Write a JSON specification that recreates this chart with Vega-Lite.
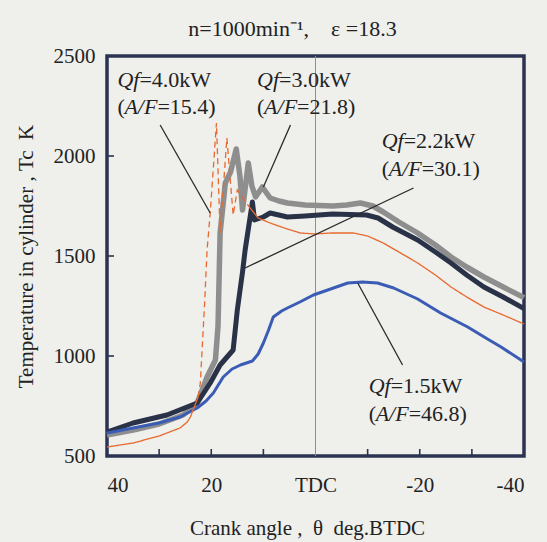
{
  "$schema": "https://vega.github.io/schema/vega-lite/v6.json",
  "width": 417,
  "height": 400,
  "autosize": {"type": "none"},
  "padding": {"left": 107, "top": 56, "right": 23, "bottom": 86},
  "background": "#efefec",
  "title": {
    "text": "n=1000min\u207b\u00b9,\u00a0\u00a0\u00a0\u00a0\u03b5\u00a0=18.3",
    "font": "Liberation Serif",
    "fontSize": 22,
    "fontWeight": "normal",
    "color": "#222222",
    "anchor": "middle",
    "dx": -23,
    "dy": 8,
    "offset": 12
  },
  "config": {
    "font": "Liberation Serif",
    "view": {"stroke": "#2b3350", "strokeWidth": 3.5}
  },
  "datasets": {
    "curves": [
      {"s": "3.0", "seg": "solid", "x": 40, "y": 605},
      {"s": "3.0", "seg": "solid", "x": 35, "y": 630},
      {"s": "3.0", "seg": "solid", "x": 30, "y": 660},
      {"s": "3.0", "seg": "solid", "x": 25.4, "y": 705},
      {"s": "3.0", "seg": "solid", "x": 22.7, "y": 765},
      {"s": "3.0", "seg": "solid", "x": 20.8, "y": 895},
      {"s": "3.0", "seg": "solid", "x": 19.2, "y": 980},
      {"s": "3.0", "seg": "solid", "x": 18.7, "y": 1150},
      {"s": "3.0", "seg": "solid", "x": 18.3, "y": 1615},
      {"s": "3.0", "seg": "solid", "x": 17.3, "y": 1865},
      {"s": "3.0", "seg": "solid", "x": 16.3, "y": 1920},
      {"s": "3.0", "seg": "solid", "x": 15.2, "y": 2035},
      {"s": "3.0", "seg": "solid", "x": 14.5, "y": 1900},
      {"s": "3.0", "seg": "solid", "x": 14, "y": 1730},
      {"s": "3.0", "seg": "solid", "x": 12.9, "y": 1965},
      {"s": "3.0", "seg": "solid", "x": 12.2, "y": 1850},
      {"s": "3.0", "seg": "solid", "x": 11.5, "y": 1795},
      {"s": "3.0", "seg": "solid", "x": 10.2, "y": 1845},
      {"s": "3.0", "seg": "solid", "x": 8.7, "y": 1790},
      {"s": "3.0", "seg": "solid", "x": 7, "y": 1775},
      {"s": "3.0", "seg": "solid", "x": 5.4, "y": 1765},
      {"s": "3.0", "seg": "solid", "x": 2, "y": 1755},
      {"s": "3.0", "seg": "solid", "x": -3.3, "y": 1750},
      {"s": "3.0", "seg": "solid", "x": -6, "y": 1755},
      {"s": "3.0", "seg": "solid", "x": -8.6, "y": 1765},
      {"s": "3.0", "seg": "solid", "x": -11, "y": 1750},
      {"s": "3.0", "seg": "solid", "x": -13, "y": 1720},
      {"s": "3.0", "seg": "solid", "x": -16, "y": 1670},
      {"s": "3.0", "seg": "solid", "x": -19.6, "y": 1615},
      {"s": "3.0", "seg": "solid", "x": -23, "y": 1555},
      {"s": "3.0", "seg": "solid", "x": -26, "y": 1495},
      {"s": "3.0", "seg": "solid", "x": -29, "y": 1445},
      {"s": "3.0", "seg": "solid", "x": -32.3, "y": 1395},
      {"s": "3.0", "seg": "solid", "x": -36, "y": 1345},
      {"s": "3.0", "seg": "solid", "x": -40, "y": 1292},

      {"s": "2.2", "seg": "solid", "x": 40, "y": 620},
      {"s": "2.2", "seg": "solid", "x": 35, "y": 665},
      {"s": "2.2", "seg": "solid", "x": 28.5, "y": 705},
      {"s": "2.2", "seg": "solid", "x": 22.7, "y": 765},
      {"s": "2.2", "seg": "solid", "x": 20.2, "y": 865},
      {"s": "2.2", "seg": "solid", "x": 18.3, "y": 955},
      {"s": "2.2", "seg": "solid", "x": 15.8, "y": 1030},
      {"s": "2.2", "seg": "solid", "x": 15, "y": 1230},
      {"s": "2.2", "seg": "solid", "x": 14, "y": 1420},
      {"s": "2.2", "seg": "solid", "x": 13.5, "y": 1530},
      {"s": "2.2", "seg": "solid", "x": 12.1, "y": 1770},
      {"s": "2.2", "seg": "solid", "x": 11.7, "y": 1680},
      {"s": "2.2", "seg": "solid", "x": 10, "y": 1695},
      {"s": "2.2", "seg": "solid", "x": 8.7, "y": 1715},
      {"s": "2.2", "seg": "solid", "x": 5.4, "y": 1695},
      {"s": "2.2", "seg": "solid", "x": 2, "y": 1700},
      {"s": "2.2", "seg": "solid", "x": -3.3, "y": 1710},
      {"s": "2.2", "seg": "solid", "x": -9.8, "y": 1705},
      {"s": "2.2", "seg": "solid", "x": -12, "y": 1690},
      {"s": "2.2", "seg": "solid", "x": -14.8, "y": 1645},
      {"s": "2.2", "seg": "solid", "x": -19.6, "y": 1580},
      {"s": "2.2", "seg": "solid", "x": -23, "y": 1520},
      {"s": "2.2", "seg": "solid", "x": -26, "y": 1465},
      {"s": "2.2", "seg": "solid", "x": -29, "y": 1405},
      {"s": "2.2", "seg": "solid", "x": -32.3, "y": 1345},
      {"s": "2.2", "seg": "solid", "x": -36, "y": 1295},
      {"s": "2.2", "seg": "solid", "x": -40, "y": 1237},

      {"s": "1.5", "seg": "solid", "x": 40, "y": 615},
      {"s": "1.5", "seg": "solid", "x": 35, "y": 640},
      {"s": "1.5", "seg": "solid", "x": 30, "y": 665},
      {"s": "1.5", "seg": "solid", "x": 26, "y": 695},
      {"s": "1.5", "seg": "solid", "x": 22.7, "y": 740},
      {"s": "1.5", "seg": "solid", "x": 21, "y": 775},
      {"s": "1.5", "seg": "solid", "x": 19.6, "y": 815},
      {"s": "1.5", "seg": "solid", "x": 17.7, "y": 895},
      {"s": "1.5", "seg": "solid", "x": 16, "y": 935},
      {"s": "1.5", "seg": "solid", "x": 14.4, "y": 955},
      {"s": "1.5", "seg": "solid", "x": 12.1, "y": 975},
      {"s": "1.5", "seg": "solid", "x": 11, "y": 1010},
      {"s": "1.5", "seg": "solid", "x": 10, "y": 1065},
      {"s": "1.5", "seg": "solid", "x": 9, "y": 1130},
      {"s": "1.5", "seg": "solid", "x": 8.1, "y": 1195},
      {"s": "1.5", "seg": "solid", "x": 6.5, "y": 1225},
      {"s": "1.5", "seg": "solid", "x": 5.4, "y": 1240},
      {"s": "1.5", "seg": "solid", "x": 3, "y": 1270},
      {"s": "1.5", "seg": "solid", "x": 0.4, "y": 1305},
      {"s": "1.5", "seg": "solid", "x": -2.9, "y": 1335},
      {"s": "1.5", "seg": "solid", "x": -6.2, "y": 1365},
      {"s": "1.5", "seg": "solid", "x": -9, "y": 1370},
      {"s": "1.5", "seg": "solid", "x": -11.9, "y": 1365},
      {"s": "1.5", "seg": "solid", "x": -15, "y": 1340},
      {"s": "1.5", "seg": "solid", "x": -19.6, "y": 1285},
      {"s": "1.5", "seg": "solid", "x": -24, "y": 1215},
      {"s": "1.5", "seg": "solid", "x": -29.2, "y": 1145},
      {"s": "1.5", "seg": "solid", "x": -33, "y": 1085},
      {"s": "1.5", "seg": "solid", "x": -35.6, "y": 1045},
      {"s": "1.5", "seg": "solid", "x": -40, "y": 970},

      {"s": "4.0", "seg": "a", "x": 40, "y": 545},
      {"s": "4.0", "seg": "a", "x": 35, "y": 565},
      {"s": "4.0", "seg": "a", "x": 30, "y": 600},
      {"s": "4.0", "seg": "a", "x": 26, "y": 640},
      {"s": "4.0", "seg": "a", "x": 24.6, "y": 670},
      {"s": "4.0", "seg": "a", "x": 24, "y": 695},
      {"s": "4.0", "seg": "a", "x": 22.5, "y": 795},
      {"s": "4.0", "seg": "b", "x": 22.5, "y": 795},
      {"s": "4.0", "seg": "b", "x": 22.1, "y": 865},
      {"s": "4.0", "seg": "b", "x": 21.3, "y": 1250},
      {"s": "4.0", "seg": "b", "x": 20.8, "y": 1530},
      {"s": "4.0", "seg": "b", "x": 20.2, "y": 1715},
      {"s": "4.0", "seg": "b", "x": 19, "y": 2165},
      {"s": "4.0", "seg": "b", "x": 18.3, "y": 1615},
      {"s": "4.0", "seg": "b", "x": 17, "y": 2090},
      {"s": "4.0", "seg": "b", "x": 15.8, "y": 1705},
      {"s": "4.0", "seg": "b", "x": 15, "y": 1830},
      {"s": "4.0", "seg": "b", "x": 13, "y": 1755},
      {"s": "4.0", "seg": "c", "x": 13, "y": 1755},
      {"s": "4.0", "seg": "c", "x": 11, "y": 1690},
      {"s": "4.0", "seg": "c", "x": 8.7, "y": 1665},
      {"s": "4.0", "seg": "c", "x": 6, "y": 1640},
      {"s": "4.0", "seg": "c", "x": 2.9, "y": 1615},
      {"s": "4.0", "seg": "c", "x": 0, "y": 1610},
      {"s": "4.0", "seg": "c", "x": -2.9, "y": 1615},
      {"s": "4.0", "seg": "c", "x": -7.3, "y": 1615},
      {"s": "4.0", "seg": "c", "x": -10, "y": 1600},
      {"s": "4.0", "seg": "c", "x": -13, "y": 1565},
      {"s": "4.0", "seg": "c", "x": -16, "y": 1520},
      {"s": "4.0", "seg": "c", "x": -19.6, "y": 1465},
      {"s": "4.0", "seg": "c", "x": -23, "y": 1405},
      {"s": "4.0", "seg": "c", "x": -26, "y": 1345},
      {"s": "4.0", "seg": "c", "x": -29, "y": 1295},
      {"s": "4.0", "seg": "c", "x": -32.3, "y": 1245},
      {"s": "4.0", "seg": "c", "x": -36, "y": 1205},
      {"s": "4.0", "seg": "c", "x": -40, "y": 1160}
    ],
    "leaders": [
      {"x": 29.8, "y": 2155, "x2": 20.2, "y2": 1715},
      {"x": 4.8, "y": 2155, "x2": 10, "y2": 1845},
      {"x": -18.8, "y": 1840, "x2": 13.5, "y2": 1440},
      {"x": -8.1, "y": 1365, "x2": -16.7, "y2": 955}
    ],
    "labels": [
      {"x": 38, "y1": 2380, "y2": 2245, "qf": "=4.0kW", "af": "=15.4)"},
      {"x": 11.2, "y1": 2380, "y2": 2245, "qf": "=3.0kW", "af": "=21.8)"},
      {"x": -12.7, "y1": 2075, "y2": 1935, "qf": "=2.2kW", "af": "=30.1)"},
      {"x": -10.2, "y1": 850, "y2": 712, "qf": "=1.5kW", "af": "=46.8)"}
    ],
    "xticks": [{"x": 30}, {"x": 20}, {"x": 10}, {"x": -10}, {"x": -20}, {"x": -30}],
    "yticks": [{"y": 1000}, {"y": 1500}, {"y": 2000}]
  },
  "layer": [
    {
      "data": {"values": [{"x": 0}]},
      "mark": {"type": "rule", "color": "#8a909c", "strokeWidth": 1},
      "encoding": {
        "x": {
          "field": "x", "type": "quantitative",
          "scale": {"domain": [-40, 40], "reverse": true, "nice": false, "zero": false},
          "axis": {
            "values": [40, 30, 20, 10, 0, -10, -20, -30, -40],
            "labelExpr": "datum.value == 0 ? 'TDC' : (datum.value % 20 == 0 ? '' + datum.value : '')",
            "grid": false,
            "domain": false,
            "ticks": false,
            "labelFont": "Liberation Serif",
            "labelFontSize": 21,
            "labelColor": "#222222",
            "labelPadding": 18,
            "title": "Crank angle ,\u00a0\u00a0\u03b8\u00a0\u00a0deg.BTDC",
            "titleFont": "Liberation Serif",
            "titleFontSize": 21,
            "titleFontWeight": "normal",
            "titleColor": "#222222",
            "titlePadding": 22,
            "titleX": 200
          }
        }
      }
    },
    {
      "data": {"name": "xticks"},
      "mark": {"type": "rule", "color": "#2b3350", "strokeWidth": 1.6},
      "encoding": {
        "x": {"field": "x", "type": "quantitative", "scale": {"domain": [-40, 40], "reverse": true, "nice": false, "zero": false}},
        "y": {"datum": 500, "type": "quantitative", "scale": {"domain": [500, 2500], "nice": false, "zero": false}},
        "y2": {"datum": 535}
      }
    },
    {
      "data": {"name": "yticks"},
      "mark": {"type": "rule", "color": "#2b3350", "strokeWidth": 1.6},
      "encoding": {
        "y": {"field": "y", "type": "quantitative", "scale": {"domain": [500, 2500], "nice": false, "zero": false}},
        "x": {"datum": 40, "type": "quantitative", "scale": {"domain": [-40, 40], "reverse": true, "nice": false, "zero": false}},
        "x2": {"datum": 38.65}
      }
    },
    {
      "data": {"name": "curves"},
      "transform": [{"filter": "datum.s == '3.0'"}],
      "mark": {"type": "line", "color": "#8e8e8e", "strokeWidth": 5.5, "strokeJoin": "round"},
      "encoding": {
        "x": {"field": "x", "type": "quantitative"},
        "y": {
          "field": "y", "type": "quantitative",
          "scale": {"domain": [500, 2500], "nice": false, "zero": false},
          "axis": {
            "values": [500, 1000, 1500, 2000, 2500],
            "format": "d",
            "grid": false,
            "domain": false,
            "ticks": false,
            "labelFont": "Liberation Serif",
            "labelFontSize": 21,
            "labelColor": "#222222",
            "labelPadding": 12,
            "title": "Temperature in cylinder ,\u00a0Tc\u00a0\u00a0K",
            "titleFont": "Liberation Serif",
            "titleFontSize": 21,
            "titleFontWeight": "normal",
            "titleColor": "#222222",
            "titlePadding": 17
          }
        }
      }
    },
    {
      "data": {"name": "curves"},
      "transform": [{"filter": "datum.s == '2.2'"}],
      "mark": {"type": "line", "color": "#2a3248", "strokeWidth": 5, "strokeJoin": "round"},
      "encoding": {
        "x": {"field": "x", "type": "quantitative"},
        "y": {"field": "y", "type": "quantitative"}
      }
    },
    {
      "data": {"name": "curves"},
      "transform": [{"filter": "datum.s == '1.5'"}],
      "mark": {"type": "line", "color": "#3b5cb4", "strokeWidth": 3, "strokeJoin": "round"},
      "encoding": {
        "x": {"field": "x", "type": "quantitative"},
        "y": {"field": "y", "type": "quantitative"}
      }
    },
    {
      "data": {"name": "curves"},
      "transform": [{"filter": "datum.s == '4.0'"}],
      "mark": {"type": "line", "color": "#e8692e", "strokeWidth": 1.3},
      "encoding": {
        "x": {"field": "x", "type": "quantitative"},
        "y": {"field": "y", "type": "quantitative"},
        "detail": {"field": "seg"},
        "strokeDash": {
          "field": "seg", "type": "nominal",
          "scale": {"domain": ["a", "b", "c"], "range": [[1, 0], [6, 4], [1, 0]]},
          "legend": null
        }
      }
    },
    {
      "data": {"name": "leaders"},
      "mark": {"type": "rule", "color": "#2a2a2a", "strokeWidth": 1.3},
      "encoding": {
        "x": {"field": "x", "type": "quantitative"},
        "y": {"field": "y", "type": "quantitative"},
        "x2": {"field": "x2"},
        "y2": {"field": "y2"}
      }
    },
    {
      "data": {"name": "labels"},
      "mark": {"type": "text", "align": "left", "baseline": "middle", "fontSize": 22, "fontStyle": "italic", "color": "#222222"},
      "encoding": {
        "x": {"field": "x", "type": "quantitative"},
        "y": {"field": "y1", "type": "quantitative"},
        "text": {"value": "Qf"}
      }
    },
    {
      "data": {"name": "labels"},
      "mark": {"type": "text", "align": "left", "baseline": "middle", "fontSize": 22, "dx": 22, "color": "#222222"},
      "encoding": {
        "x": {"field": "x", "type": "quantitative"},
        "y": {"field": "y1", "type": "quantitative"},
        "text": {"field": "qf"}
      }
    },
    {
      "data": {"name": "labels"},
      "mark": {"type": "text", "align": "left", "baseline": "middle", "fontSize": 22, "color": "#222222"},
      "encoding": {
        "x": {"field": "x", "type": "quantitative"},
        "y": {"field": "y2", "type": "quantitative"},
        "text": {"value": "("}
      }
    },
    {
      "data": {"name": "labels"},
      "mark": {"type": "text", "align": "left", "baseline": "middle", "fontSize": 22, "fontStyle": "italic", "dx": 7, "color": "#222222"},
      "encoding": {
        "x": {"field": "x", "type": "quantitative"},
        "y": {"field": "y2", "type": "quantitative"},
        "text": {"value": "A/F"}
      }
    },
    {
      "data": {"name": "labels"},
      "mark": {"type": "text", "align": "left", "baseline": "middle", "fontSize": 22, "dx": 40, "color": "#222222"},
      "encoding": {
        "x": {"field": "x", "type": "quantitative"},
        "y": {"field": "y2", "type": "quantitative"},
        "text": {"field": "af"}
      }
    }
  ]
}
